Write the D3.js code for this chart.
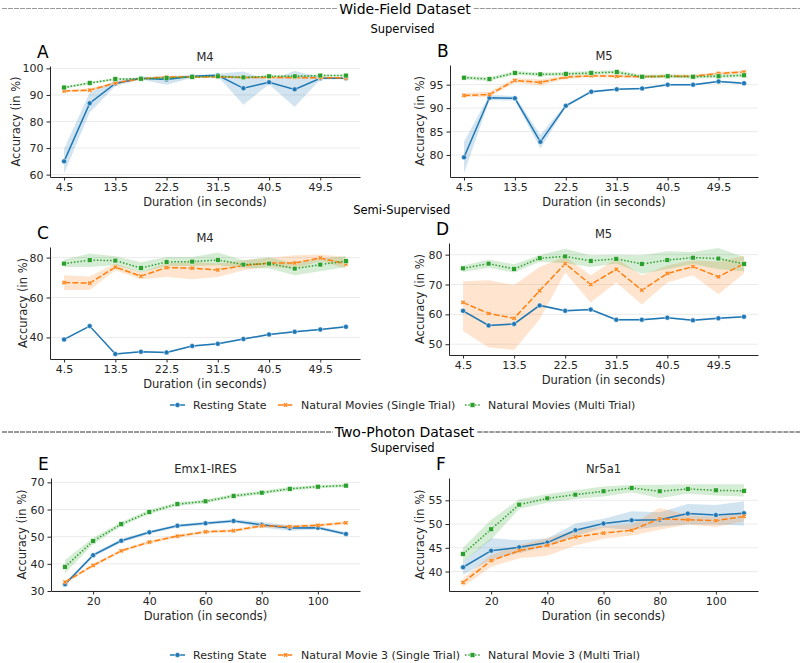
<!DOCTYPE html>
<html><head><meta charset="utf-8">
<script src="https://cdn.jsdelivr.net/npm/d3@7"></script>
<style>body{margin:0;background:#fff}text{font-family:"DejaVu Sans",sans-serif}</style>
</head><body>
<script>
// ---------- DATA ----------
const wfDurations = [4.5, 9, 13.5, 18, 22.5, 27, 31.5, 36, 40.5, 45, 49.5, 54];
const wfTicks = [4.5, 13.5, 22.5, 31.5, 40.5, 49.5];
const tpDurations = [10, 20, 30, 40, 50, 60, 70, 80, 90, 100, 110];
const tpTicks = [20, 40, 60, 80, 100];

const wfSeriesNames = ["Resting State", "Natural Movies (Single Trial)", "Natural Movies (Multi Trial)"];
const tpSeriesNames = ["Resting State", "Natural Movie 3 (Single Trial)", "Natural Movie 3 (Multi Trial)"];

// Panel A (Wide-field, supervised, M4)
const A_rest      = [65.0, 86.9, 94.3, 96.3, 95.8, 97.0, 97.4, 92.5, 94.8, 92.1, 96.3, 96.3];
const A_rest_lo   = [60.4, 83.4, 93.4, 95.8, 93.8, 96.5, 96.9, 86.3, 94.0, 85.5, 95.8, 95.9];
const A_rest_hi   = [69.7, 90.9, 95.3, 96.8, 97.0, 97.5, 98.0, 98.8, 95.5, 99.0, 96.8, 96.8];
const A_single    = [91.5, 91.8, 94.5, 96.1, 96.8, 96.8, 96.8, 96.6, 96.6, 96.5, 96.5, 96.4];
const A_single_lo = [91.0, 91.2, 94.0, 95.7, 96.3, 96.4, 96.4, 96.2, 96.2, 96.1, 96.1, 96.0];
const A_single_hi = [92.0, 92.4, 95.0, 96.5, 97.2, 97.2, 97.2, 97.0, 97.0, 96.9, 96.9, 96.8];
const A_multi     = [92.8, 94.5, 96.0, 96.1, 96.4, 96.8, 97.0, 96.6, 97.0, 97.0, 97.3, 97.3];
const A_multi_lo  = [92.3, 94.0, 95.6, 95.7, 96.0, 96.4, 96.6, 96.2, 96.6, 96.6, 96.9, 96.9];
const A_multi_hi  = [93.3, 95.0, 96.4, 96.5, 96.8, 97.2, 97.4, 97.0, 97.4, 97.4, 97.7, 97.7];
const A_yTicks = [60, 70, 80, 90, 100];

// Panel B (Wide-field, supervised, M5)
const B_rest      = [79.5, 92.2, 92.1, 82.8, 90.5, 93.5, 94.0, 94.2, 95.0, 95.0, 95.7, 95.3];
const B_rest_lo   = [76.1, 91.7, 91.6, 81.4, 90.2, 93.2, 93.8, 94.0, 94.8, 94.8, 95.5, 95.1];
const B_rest_hi   = [82.8, 92.8, 92.6, 84.3, 90.8, 93.8, 94.2, 94.4, 95.2, 95.2, 95.9, 95.5];
const B_single    = [92.7, 92.9, 95.9, 95.5, 96.6, 96.9, 96.8, 96.7, 96.8, 96.8, 97.4, 97.7];
const B_single_lo = [92.3, 92.4, 95.4, 94.8, 96.2, 96.6, 96.5, 96.4, 96.5, 96.5, 97.1, 97.4];
const B_single_hi = [93.2, 93.5, 96.4, 96.1, 97.0, 97.2, 97.1, 97.0, 97.1, 97.1, 97.7, 98.0];
const B_multi     = [96.5, 96.2, 97.5, 97.2, 97.3, 97.5, 97.7, 96.7, 96.8, 96.7, 96.8, 97.0];
const B_multi_lo  = [96.1, 95.8, 97.1, 96.8, 96.9, 97.1, 97.3, 96.3, 96.4, 96.3, 96.4, 96.6];
const B_multi_hi  = [96.9, 96.6, 97.9, 97.6, 97.7, 97.9, 98.1, 97.1, 97.2, 97.1, 97.2, 97.4];
const B_yTicks = [80, 85, 90, 95];

// Panel C (Wide-field, semi-supervised, M4)
const C_rest      = [39.0, 45.7, 31.7, 32.8, 32.5, 35.7, 36.8, 39.2, 41.5, 42.8, 44.0, 45.3];
const C_rest_lo   = [38.6, 45.3, 31.3, 32.4, 32.1, 35.3, 36.4, 38.8, 41.1, 42.4, 43.6, 44.9];
const C_rest_hi   = [39.4, 46.1, 32.1, 33.2, 32.9, 36.1, 37.2, 39.6, 41.9, 43.2, 44.4, 45.7];
const C_single    = [67.5, 67.2, 75.2, 70.7, 75.0, 74.7, 73.8, 76.0, 77.3, 77.3, 79.8, 76.8];
const C_single_lo = [63.8, 63.8, 73.7, 69.2, 70.3, 69.2, 70.3, 73.7, 75.3, 74.5, 78.3, 74.5];
const C_single_hi = [71.2, 70.5, 77.0, 72.5, 77.0, 77.8, 77.0, 78.7, 79.8, 81.2, 81.5, 80.3];
const C_multi     = [77.0, 78.7, 78.5, 74.8, 77.8, 78.0, 78.8, 76.5, 77.0, 74.5, 76.5, 78.2];
const C_multi_lo  = [75.3, 75.3, 76.2, 72.5, 75.8, 75.8, 76.2, 74.8, 74.5, 71.2, 73.2, 75.3];
const C_multi_hi  = [79.0, 82.0, 80.7, 77.7, 80.3, 80.3, 82.5, 78.7, 80.2, 77.0, 79.5, 80.7];
const C_yTicks = [40, 60, 80];

// Panel D (Wide-field, semi-supervised, M5)
const D_rest      = [61.2, 56.3, 56.8, 63.0, 61.2, 61.6, 58.2, 58.2, 58.9, 58.0, 58.7, 59.2];
const D_rest_lo   = [60.9, 56.0, 56.5, 62.7, 60.9, 61.3, 57.9, 57.9, 58.6, 57.7, 58.4, 58.9];
const D_rest_hi   = [61.5, 56.6, 57.1, 63.3, 61.5, 61.9, 58.5, 58.5, 59.2, 58.3, 59.0, 59.5];
const D_single    = [64.0, 60.3, 58.7, 67.9, 77.0, 70.0, 75.1, 68.1, 73.7, 76.0, 72.6, 77.0];
const D_single_lo = [54.4, 48.9, 48.1, 58.4, 74.0, 64.0, 70.7, 63.3, 70.7, 73.1, 66.7, 73.7];
const D_single_hi = [71.1, 71.4, 69.8, 75.9, 79.4, 73.1, 78.7, 73.1, 76.4, 78.1, 77.6, 79.6];
const D_multi     = [75.4, 77.0, 75.2, 78.8, 79.4, 77.9, 78.6, 76.9, 78.2, 79.0, 78.7, 76.9];
const D_multi_lo  = [74.2, 75.6, 74.0, 77.6, 77.1, 75.9, 77.0, 73.6, 75.1, 76.9, 75.1, 74.4];
const D_multi_hi  = [76.4, 78.3, 76.8, 79.8, 82.0, 79.8, 80.0, 79.8, 81.1, 80.9, 82.2, 79.2];
const D_yTicks = [50, 60, 70, 80];

// Panel E (Two-photon, Emx1-IRES)
const E_rest      = [32.5, 43.2, 48.5, 51.6, 54.0, 54.9, 55.8, 54.4, 53.2, 53.3, 51.0];
const E_rest_lo   = [32.0, 42.5, 47.8, 51.0, 53.4, 54.3, 55.2, 53.4, 52.2, 52.6, 50.4];
const E_rest_hi   = [33.0, 43.9, 49.2, 52.2, 54.6, 55.5, 56.4, 55.4, 54.2, 54.0, 51.6];
const E_single    = [33.3, 39.4, 44.8, 48.0, 50.2, 51.8, 52.2, 54.0, 53.7, 54.2, 55.1];
const E_single_lo = [32.7, 38.8, 44.2, 47.4, 49.6, 51.2, 51.6, 53.4, 53.1, 53.6, 54.5];
const E_single_hi = [33.9, 40.0, 45.4, 48.6, 50.8, 52.4, 52.8, 54.6, 54.3, 54.8, 55.7];
const E_multi     = [38.9, 48.4, 54.6, 59.1, 62.0, 63.0, 65.0, 66.2, 67.6, 68.4, 68.8];
const E_multi_lo  = [36.5, 47.2, 53.8, 58.3, 61.3, 62.3, 64.3, 65.5, 66.9, 67.8, 68.2];
const E_multi_hi  = [41.4, 49.6, 55.4, 59.9, 62.7, 63.7, 65.7, 66.9, 68.3, 69.0, 69.4];
const E_yTicks = [30, 40, 50, 60, 70];

// Panel F (Two-photon, Nr5a1)
const F_rest      = [40.9, 44.4, 45.1, 46.1, 48.7, 50.1, 50.8, 50.9, 52.2, 51.9, 52.3];
const F_rest_lo   = [39.3, 42.5, 43.9, 45.3, 47.5, 49.2, 48.8, 49.5, 49.9, 49.9, 49.7];
const F_rest_hi   = [42.1, 47.0, 46.6, 47.0, 50.1, 51.1, 52.7, 52.5, 54.2, 54.0, 54.8];
const F_single    = [37.7, 42.3, 44.4, 45.5, 47.3, 48.1, 48.7, 51.1, 50.9, 50.7, 51.6];
const F_single_lo = [36.8, 41.0, 42.8, 43.3, 45.5, 46.9, 47.6, 48.8, 49.9, 49.4, 50.6];
const F_single_hi = [38.6, 43.5, 45.6, 47.0, 48.7, 49.6, 49.9, 53.4, 51.9, 51.5, 52.6];
const F_multi     = [43.7, 48.9, 54.1, 55.4, 56.2, 56.9, 57.6, 56.9, 57.4, 57.1, 57.0];
const F_multi_lo  = [42.1, 46.7, 53.2, 54.5, 55.3, 55.8, 56.7, 55.5, 56.4, 56.0, 55.8];
const F_multi_hi  = [45.0, 50.9, 55.2, 56.3, 57.1, 57.9, 58.3, 58.3, 58.4, 58.4, 58.4];
const F_yTicks = [40, 45, 50, 55];

// ---------- STYLE / LAYOUT ----------
const colors = ["#1f77b4", "#ff7f0e", "#2ca02c"];
const dashes = [null, "6,2.25", "1.5,1.8"];
const markers = ["circle", "x", "square"];
const textColor = "#262626";

const panels = [
  {letter: "A", title: "M4", box: [50, 360, 66, 177], xd: [2.025, 56.475], yd: [59.1, 100.9],
   xs: wfDurations, xt: wfTicks, yt: A_yTicks, ylx: 16,
   series: [[A_rest, A_rest_lo, A_rest_hi], [A_single, A_single_lo, A_single_hi], [A_multi, A_multi_lo, A_multi_hi]]},
  {letter: "B", title: "M5", box: [450, 758, 65, 177], xd: [2.025, 56.475], yd: [75.3, 99.2],
   xs: wfDurations, xt: wfTicks, yt: B_yTicks, ylx: 420,
   series: [[B_rest, B_rest_lo, B_rest_hi], [B_single, B_single_lo, B_single_hi], [B_multi, B_multi_lo, B_multi_hi]]},
  {letter: "C", title: "M4", box: [50, 360, 247, 359], xd: [2.025, 56.475], yd: [29.2, 85.3],
   xs: wfDurations, xt: wfTicks, yt: C_yTicks, ylx: 23,
   series: [[C_rest, C_rest_lo, C_rest_hi], [C_single, C_single_lo, C_single_hi], [C_multi, C_multi_lo, C_multi_hi]]},
  {letter: "D", title: "M5", box: [449, 758, 243, 355], xd: [2.025, 56.475], yd: [46.4, 83.9],
   xs: wfDurations, xt: wfTicks, yt: D_yTicks, ylx: 420,
   series: [[D_rest, D_rest_lo, D_rest_hi], [D_single, D_single_lo, D_single_hi], [D_multi, D_multi_lo, D_multi_hi]]},
  {letter: "E", title: "Emx1-IRES", box: [51, 360, 478, 591], xd: [5, 115], yd: [30, 71.6],
   xs: tpDurations, xt: tpTicks, yt: E_yTicks, ylx: 22,
   series: [[E_rest, E_rest_lo, E_rest_hi], [E_single, E_single_lo, E_single_hi], [E_multi, E_multi_lo, E_multi_hi]]},
  {letter: "F", title: "Nr5a1", box: [449, 758, 478, 591], xd: [5, 115], yd: [35.9, 59.7],
   xs: tpDurations, xt: tpTicks, yt: F_yTicks, ylx: 420,
   series: [[F_rest, F_rest_lo, F_rest_hi], [F_single, F_single_lo, F_single_hi], [F_multi, F_multi_lo, F_multi_hi]]}
];

const svg = d3.select("body").append("svg").attr("width", 800).attr("height", 663);

function drawMarker(g, type, x, y, color, s) {
  if (type === "circle") {
    g.append("circle").attr("cx", x).attr("cy", y).attr("r", s * 0.5)
      .attr("fill", color).attr("stroke", "#fff").attr("stroke-width", 0.5);
  } else if (type === "square") {
    const h = s * 0.48;
    g.append("rect").attr("x", x - h).attr("y", y - h).attr("width", 2 * h).attr("height", 2 * h)
      .attr("fill", color).attr("stroke", "#fff").attr("stroke-width", 0.5);
  } else {
    g.append("path").attr("transform", `translate(${x},${y}) rotate(45)`)
      .attr("d", d3.symbol(d3.symbolCross, s * s * 0.55)())
      .attr("fill", color).attr("stroke", "#fff").attr("stroke-width", 0.4);
  }
}

panels.forEach(p => {
  const [x0, x1, y0, y1] = p.box;
  const x = d3.scaleLinear().domain(p.xd).range([x0, x1]);
  const y = d3.scaleLinear().domain(p.yd).range([y1, y0]);
  const g = svg.append("g");

  // grid
  g.selectAll(".grid").data(p.yt).join("line")
    .attr("x1", x0).attr("x2", x1).attr("y1", d => y(d)).attr("y2", d => y(d))
    .attr("stroke", "#e6e6e6").attr("stroke-width", 0.8);

  // bands
  p.series.forEach((s, i) => {
    const rows = p.xs.map((d, k) => ({x: d, lo: s[1][k], hi: s[2][k]}));
    g.append("path").datum(rows)
      .attr("d", d3.area().x(d => x(d.x)).y0(d => y(d.lo)).y1(d => y(d.hi)))
      .attr("fill", colors[i]).attr("fill-opacity", 0.2).attr("stroke", "none");
  });
  // lines + markers
  p.series.forEach((s, i) => {
    const rows = p.xs.map((d, k) => ({x: d, v: s[0][k]}));
    g.append("path").datum(rows)
      .attr("d", d3.line().x(d => x(d.x)).y(d => y(d.v)))
      .attr("fill", "none").attr("stroke", colors[i]).attr("stroke-width", 1.5)
      .attr("stroke-dasharray", dashes[i]);
    rows.forEach(r => drawMarker(g, markers[i], x(r.x), y(r.v), colors[i], 5));
  });

  // axes
  const ax = g.append("g").attr("transform", `translate(0,${y1})`)
    .call(d3.axisBottom(x).tickValues(p.xt).tickFormat(d => String(d)).tickSize(3.5).tickSizeOuter(0).tickPadding(3));
  const ay = g.append("g").attr("transform", `translate(${x0},0)`)
    .call(d3.axisLeft(y).tickValues(p.yt).tickFormat(d => String(d)).tickSize(3.5).tickSizeOuter(0).tickPadding(3));
  [ax, ay].forEach(a => {
    a.select(".domain").attr("stroke", textColor).attr("stroke-width", 1);
    a.selectAll(".tick line").attr("stroke", textColor).attr("stroke-width", 1);
    a.selectAll(".tick text").attr("fill", textColor).style("font-size", "11px")
      .style("font-family", "DejaVu Sans");
  });

  // labels
  g.append("text").attr("x", (x0 + x1) / 2).attr("y", y1 + 25)
    .attr("text-anchor", "middle").attr("dominant-baseline", "central")
    .attr("fill", textColor).style("font-size", "11.5px").text("Duration (in seconds)");
  g.append("text").attr("transform", `translate(${p.ylx},${(y0 + y1) / 2}) rotate(-90)`)
    .attr("text-anchor", "middle").attr("dominant-baseline", "central")
    .attr("fill", textColor).style("font-size", "11.5px").text("Accuracy (in %)");
  g.append("text").attr("x", (x0 + x1) / 2).attr("y", y0 - 9)
    .attr("text-anchor", "middle").attr("dominant-baseline", "central")
    .attr("fill", textColor).style("font-size", "11.5px").text(p.title);
  g.append("text").attr("x", x0 - 13).attr("y", y0 - 14)
    .attr("dominant-baseline", "central")
    .attr("fill", "#000").style("font-size", "17px").text(p.letter);
});

// headers
function header(label, cy, color, cx) {
  const t = svg.append("text").attr("x", cx).attr("y", cy).attr("text-anchor", "middle")
    .attr("dominant-baseline", "central").attr("fill", "#000").style("font-size", "14px").text(label);
  const w = t.node().getComputedTextLength();
  svg.append("line").attr("x1", 2).attr("x2", cx - w / 2 - 2).attr("y1", cy).attr("y2", cy)
    .attr("stroke", color).attr("stroke-width", 1).attr("stroke-dasharray", "5,1");
  svg.append("line").attr("x1", cx + w / 2 + 3).attr("x2", 800).attr("y1", cy).attr("y2", cy)
    .attr("stroke", color).attr("stroke-width", 1).attr("stroke-dasharray", "5,1");
}
header("Wide-Field Dataset", 8.5, "#9a9a9a", 405);
header("Two-Photon Dataset", 432, "#333", 404.5);

function sub(label, cy, cx) {
  svg.append("text").attr("x", cx).attr("y", cy).attr("text-anchor", "middle")
    .attr("dominant-baseline", "central").attr("fill", "#000").style("font-size", "11.5px").text(label);
}
sub("Supervised", 28.5, 402.5);
sub("Semi-Supervised", 210, 401.7);
sub("Supervised", 447.7, 402.5);

// legends
function legend(names, cy) {
  const xs = [170, 278, 465];
  names.forEach((n, i) => {
    const g = svg.append("g");
    g.append("line").attr("x1", xs[i]).attr("x2", xs[i] + 15).attr("y1", cy).attr("y2", cy)
      .attr("stroke", colors[i]).attr("stroke-width", 1.5).attr("stroke-dasharray", dashes[i]);
    drawMarker(g, markers[i], xs[i] + 7.5, cy, colors[i], 5);
    g.append("text").attr("x", xs[i] + 23).attr("y", cy).attr("dominant-baseline", "central")
      .attr("fill", textColor).style("font-size", "11px").text(n);
  });
}
legend(wfSeriesNames, 405);
legend(tpSeriesNames, 655);
</script>
</body></html>
